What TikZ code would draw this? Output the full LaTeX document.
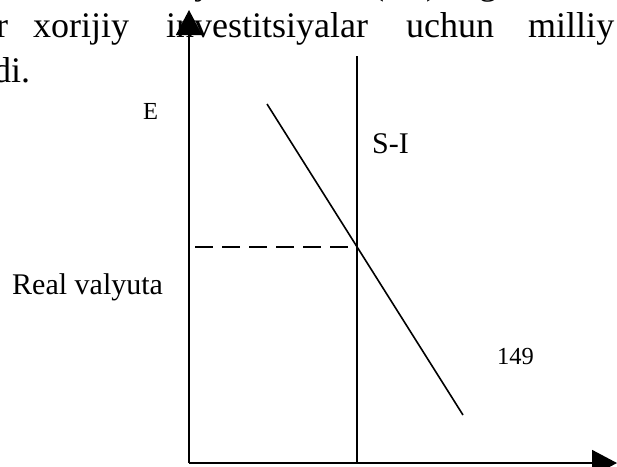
\documentclass[tikz,border=0pt]{standalone}
\usepackage{fontspec}
\setmainfont{Liberation Serif}
\usetikzlibrary{arrows.meta}
\tikzset{
  bodytext/.style={anchor=base west, inner sep=0pt, font=\fontsize{36}{40}\selectfont},
  lbl/.style={anchor=base west, inner sep=0pt, font=\fontsize{30}{34}\selectfont},
  smalllbl/.style={anchor=base west, inner sep=0pt, font=\fontsize{24.5}{28}\selectfont},
  axis/.style={line width=1.7pt, -{Triangle[length=25pt, width=26pt]}},
  curve/.style={line width=1.6pt},
  guide/.style={line width=1.5pt, dash pattern=on 18pt off 9pt}
}
\begin{document}
\begin{tikzpicture}[x=1pt, y=-1pt]
\useasboundingbox (0,0) rectangle (617,466);
% partial text line above (cut off)
\node[bodytext] (t0a) at (196,-5.5) {j};
\node[bodytext] (t0b) at (372,-5.5) {(};
\node[bodytext] (t0c) at (426,-5.5) {)};
\node[bodytext] (t0d) at (479,-5.5) {g};
% body text
\node[bodytext] (w1) at (-4,37) {r};
\node[bodytext] (w2) at (33,37) {xorijiy};
\node[bodytext] (w3) at (166,37) {investitsiyalar};
\node[bodytext] (w4) at (406,37) {uchun};
\node[bodytext] (w5) at (528,37) {milliy};
\node[bodytext] (w6) at (-7,82) {di.};
% coordinates
\coordinate (O) at (189,463);
\coordinate (Ytop) at (189,10);
\coordinate (Xend) at (617,463);
\coordinate (SItop) at (357,56);
\coordinate (SIbot) at (357,463);
\coordinate (Dtop) at (267,104);
\coordinate (Dbot) at (463,415);
\coordinate (Eq) at (357,247);
\coordinate (Yeq) at (195,247);
% lines
\draw[guide] (Yeq) -- (Eq);
\draw[curve] (SItop) -- (SIbot);
\draw[curve] (Dtop) -- (Dbot);
\draw[axis] (O) -- (Ytop);
\draw[axis] (O) -- (Xend);
% labels
\node[smalllbl] (E) at (143,119) {E};
\node[lbl] (SI) at (372,153) {S-I};
\node[lbl] (RV) at (12,294) {Real valyuta};
\node[smalllbl] (pg) at (497,364) {149};
\end{tikzpicture}
\end{document}
